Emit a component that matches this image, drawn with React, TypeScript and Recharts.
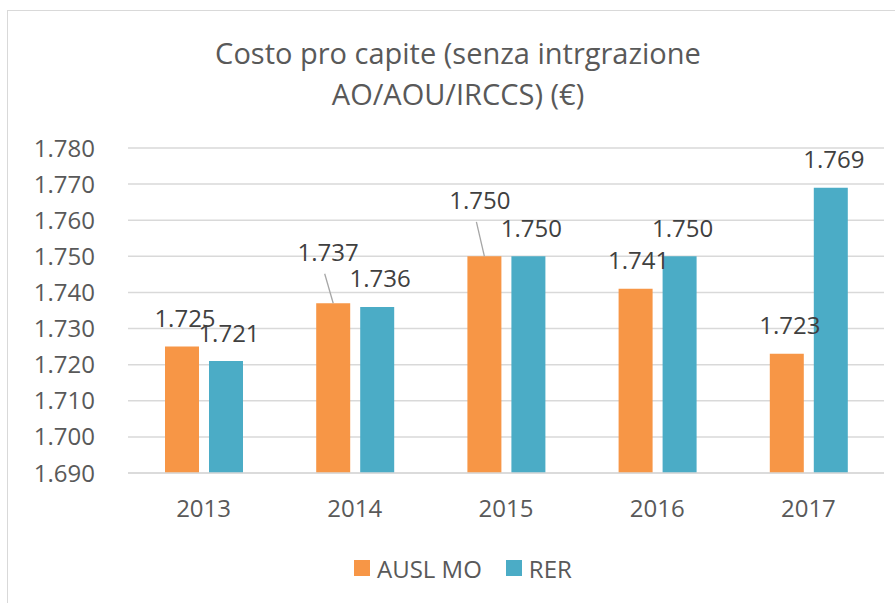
import { BarChart, Bar, XAxis, YAxis, CartesianGrid, Legend, LabelList } from 'recharts'

const years = ['2013', '2014', '2015', '2016', '2017']
const auslMo = [1725, 1737, 1750, 1741, 1723]
const rer = [1721, 1736, 1750, 1750, 1769]
const yTicks = [1690, 1700, 1710, 1720, 1730, 1740, 1750, 1760, 1770, 1780]

const ORANGE = '#F79646'
const BLUE = '#4BACC6'
const TEXT = '#595959'
const GRID = '#D9D9D9'
const FONT = '"Open Sans", sans-serif'

// labels that were dragged by hand in the original sheet (get a leader line)
const movedLabels: Record<number, { dx: number; dy: number }> = {
  1: { dx: -8, dy: -23 },
  2: { dx: -7.5, dy: -28 },
}

const data = years.map((year, i) => ({ year, ausl: auslMo[i], rer: rer[i] }))

const fmt = (n: number) => `${Math.floor(n / 1000)}.${String(n % 1000).padStart(3, '0')}`

interface LabelProps {
  x?: number | string
  y?: number | string
  width?: number | string
  value?: number | string
  index?: number
}

function makeLabel(moved: Record<number, { dx: number; dy: number }>) {
  return (props: LabelProps) => {
    const x = Number(props.x)
    const y = Number(props.y)
    const w = Number(props.width)
    const barCx = x + w / 2
    const shift = moved[props.index ?? -1]
    const cx = barCx + 3 + (shift ? shift.dx : 0)
    const cy = y - 28 + (shift ? shift.dy : 0)
    return (
      <g key={props.index}>
        {shift && (
          <line x1={cx - 3.5} y1={cy + 21.5} x2={barCx} y2={y} stroke="#A6A6A6" strokeWidth={1.3} />
        )}
        <text x={cx} y={cy + 8.5} textAnchor="middle" fontFamily={FONT} fontSize={24} fill="#404040">
          {fmt(Number(props.value))}
        </text>
      </g>
    )
  }
}

function LegendContent() {
  const item = (color: string, label: string, gap: number) => (
    <div style={{ display: 'flex', alignItems: 'center', marginRight: gap }}>
      <span style={{ width: 16, height: 16, background: color, marginRight: 7 }} />
      <span>{label}</span>
    </div>
  )
  return (
    <div
      style={{
        display: 'flex',
        alignItems: 'center',
        height: 50,
        fontFamily: FONT,
        fontSize: 24,
        color: TEXT,
      }}
    >
      {item(ORANGE, 'AUSL MO', 24)}
      {item(BLUE, 'RER', 0)}
    </div>
  )
}

export default function App() {
  return (
    <div
      style={{
        position: 'absolute',
        left: 0,
        top: 0,
        width: 895,
        height: 603,
        overflow: 'hidden',
        background: '#fff',
      }}
    >
      <div
        style={{
          position: 'absolute',
          left: 7,
          top: 10,
          width: 920,
          height: 620,
          border: `1.5px solid ${GRID}`,
        }}
      />
      <div
        style={{
          position: 'absolute',
          left: 8,
          top: 32,
          width: 900,
          textAlign: 'center',
          fontFamily: FONT,
          fontSize: 29,
          lineHeight: '41px',
          color: TEXT,
        }}
      >
        Costo pro capite (senza intrgrazione
        <br />
        AO/AOU/IRCCS) (€)
      </div>
      <div style={{ position: 'absolute', left: 0, top: 0 }}>
        <BarChart
          width={895}
          height={603}
          data={data}
          margin={{ top: 148, right: 11, bottom: 10, left: 0 }}
          barSize={34}
          barGap={10}
        >
          <CartesianGrid vertical={false} stroke={GRID} strokeWidth={1.5} />
          <XAxis
            dataKey="year"
            height={70}
            axisLine={{ stroke: GRID, strokeWidth: 1.5 }}
            tickLine={false}
            tickSize={0}
            tickMargin={27}
            tick={{ fill: TEXT, fontSize: 24, fontFamily: FONT }}
          />
          <YAxis
            width={128}
            domain={[1690, 1780]}
            ticks={yTicks}
            interval={0}
            allowDataOverflow
            axisLine={false}
            tickLine={false}
            tickSize={0}
            tickMargin={33}
            tickFormatter={fmt}
            tick={{ fill: TEXT, fontSize: 24, fontFamily: FONT }}
          />
          <Legend
            verticalAlign="bottom"
            content={() => <LegendContent />}
            wrapperStyle={{ left: 354, width: 'auto' }}
          />
          <Bar dataKey="ausl" name="AUSL MO" fill={ORANGE} isAnimationActive={false}>
            <LabelList dataKey="ausl" content={makeLabel(movedLabels)} />
          </Bar>
          <Bar dataKey="rer" name="RER" fill={BLUE} isAnimationActive={false}>
            <LabelList dataKey="rer" content={makeLabel({})} />
          </Bar>
        </BarChart>
      </div>
    </div>
  )
}
